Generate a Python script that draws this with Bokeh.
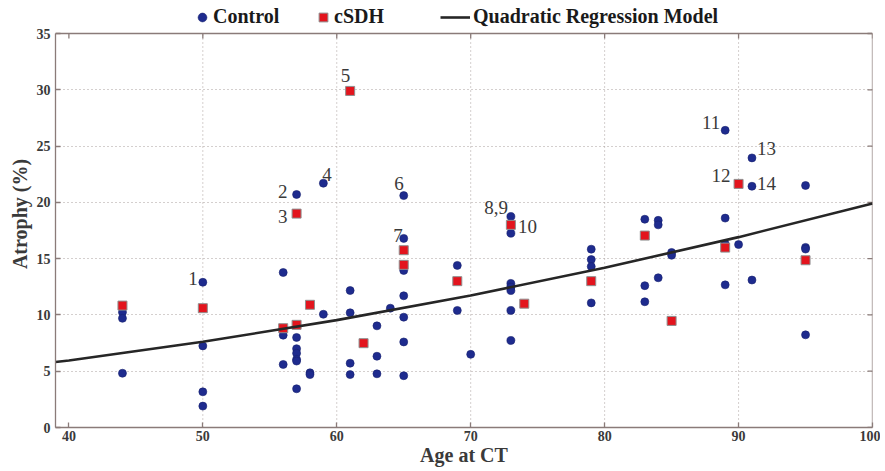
from bokeh.plotting import figure
from bokeh.models import Legend, LegendItem, FixedTicker, Range1d, ColumnDataSource
from bokeh.core.properties import value
from bokeh.embed import file_html
from bokeh.resources import INLINE

# ---------------- data ----------------
ctrl_age = [44, 44, 44,
            50, 50, 50, 50,
            56, 56, 56,
            57, 57, 57, 57, 57, 57, 57,
            58, 58,
            59, 59,
            61, 61, 61, 61,
            63, 63, 63,
            64,
            65, 65, 65, 65, 65, 65, 65,
            69, 69,
            70,
            73, 73, 73, 73, 73, 73, 73,
            79, 79, 79, 79,
            83, 83, 83,
            84, 84, 84,
            85, 85,
            89, 89, 89, 89,
            90,
            91, 91, 91,
            95, 95, 95, 95]
ctrl_atrophy = [10.24, 9.7, 4.82,
                12.9, 7.25, 3.17, 1.9,
                13.77, 8.2, 5.6,
                20.7, 8.0, 7.0, 6.6, 6.05, 5.9, 3.44,
                4.86, 4.7,
                21.7, 10.06,
                12.17, 10.19, 5.71, 4.7,
                9.03, 6.33, 4.77,
                10.6,
                20.6, 16.8, 13.95, 11.7, 9.8, 7.6, 4.6,
                14.4, 10.4,
                6.5,
                18.74, 17.26, 12.8, 12.46, 12.17, 10.4, 7.73,
                15.84, 14.92, 14.3, 11.07,
                18.5, 12.6, 11.17,
                18.4, 18.0, 13.3,
                15.55, 15.3,
                26.4, 18.6, 16.3, 12.67,
                16.25,
                23.95, 21.43, 13.1,
                21.5, 16.0, 15.85, 8.23]

csdh_age = [44, 50, 56, 57, 57, 58, 61, 62, 65, 65, 69, 73, 74, 79, 83, 85, 89, 90, 95]
csdh_atrophy = [10.83, 10.6, 8.82, 19.0, 9.12, 10.9, 29.9, 7.49, 15.75, 14.45,
                13.0, 18.0, 11.0, 13.0, 17.05, 9.47, 15.98, 21.64, 14.86]

model_age = [39, 40, 50, 60, 70, 80, 90, 100]
model_atrophy = [5.82, 5.95, 7.61, 9.54, 11.73, 14.19, 16.91, 19.90]

ann_text = ["1", "2", "3", "4", "5", "6", "7", "8,9", "10", "11", "12", "13", "14"]
ann_age = [50, 57, 57, 59, 61, 65, 65, 73, 73, 89, 90, 91, 91]
ann_atrophy = [12.9, 20.7, 19.0, 21.7, 29.9, 20.6, 16.8, 18.74, 18.0, 26.4, 21.64, 23.95, 21.43]

x_ticks = [40, 50, 60, 70, 80, 90, 100]
y_ticks = [0, 5, 10, 15, 20, 25, 30, 35]
x_lim = (39, 100)
y_lim = (0, 35)

series_names = ["Control", "cSDH", "Quadratic Regression Model"]
x_title = "Age at CT"
y_title = "Atrophy (%)"

# ---------------- styles / layout ----------------
ann_dx = [-5, -9, -9, -1, 0, 0, -1, -3, 7, -5, -8, 5, 5]
ann_dy = [-4, -3, 3, -9, -15, -12, -3, -9, 2, -8, -8, -9, -3]
ann_align = ["right", "right", "right", "left", "right", "right", "right",
             "right", "left", "right", "right", "left", "left"]

AX = "#8a7b79"
GRID = "#a99e9c"
TXT = "#3a3a3a"
SERIF = "Liberation Serif"

W, H = 880, 470
B_LEFT, B_RIGHT, B_BOTTOM = 55, 8, 43
BOX_TOP_PX = 33                       # data box starts 33px below the top edge
FRAME_W = W - B_LEFT - B_RIGHT
FRAME_H = H - B_BOTTOM                # frame reaches the top so the legend is inside it
BOX_H = FRAME_H - BOX_TOP_PX
y_view_top = y_lim[1] * FRAME_H / BOX_H
TICK_PX = 5
tick_dy = TICK_PX * y_view_top / FRAME_H
tick_dx = TICK_PX * (x_lim[1] - x_lim[0]) / FRAME_W

p = figure(width=W, height=H, x_range=Range1d(*x_lim), y_range=Range1d(0, y_view_top),
           output_backend="svg", toolbar_location=None,
           min_border_left=B_LEFT, min_border_right=B_RIGHT, min_border_top=0,
           min_border_bottom=B_BOTTOM)
p.background_fill_color = "white"
p.border_fill_color = "white"
p.outline_line_color = None

bottom_ax = p.below[0]
left_ax = p.left[0]
left_ax.bounds = y_lim

for ax, ticks in ((bottom_ax, x_ticks), (left_ax, y_ticks)):
    ax.ticker = FixedTicker(ticks=ticks)
    ax.axis_line_color = AX
    ax.axis_line_width = 1.3
    ax.major_tick_line_color = AX
    ax.major_tick_line_width = 1.3
    ax.major_tick_in = TICK_PX
    ax.major_tick_out = 0
    ax.minor_tick_line_color = None
    ax.major_label_text_font = SERIF
    ax.major_label_text_font_style = "bold"
    ax.major_label_text_font_size = "14px"
    ax.major_label_text_color = TXT
    ax.axis_label_text_font = SERIF
    ax.axis_label_text_font_style = "bold"
    ax.axis_label_text_font_size = "20px"
    ax.axis_label_text_color = TXT

bottom_ax.major_label_standoff = 3
bottom_ax.axis_label = x_title
bottom_ax.axis_label_standoff = 0
left_ax.major_label_standoff = 5
left_ax.axis_label = y_title
left_ax.axis_label_standoff = 3

# horizontal grid lines (dotted)
p.xgrid.visible = False
yg = p.ygrid[0]
yg.ticker = FixedTicker(ticks=y_ticks[1:-1])
yg.grid_line_color = GRID
yg.grid_line_dash = "1 3"
yg.grid_line_width = 1
# vertical grid lines, limited to the data box
inner_x = x_ticks[1:-1]
p.segment(x0=inner_x, y0=[y_lim[0]] * len(inner_x), x1=inner_x, y1=[y_lim[1]] * len(inner_x),
          line_color=GRID, line_dash="1 3", line_width=1)
# box: top and right edges
p.segment(x0=[x_lim[0], x_lim[1]], y0=[y_lim[1], y_lim[0]],
          x1=[x_lim[1], x_lim[1]], y1=[y_lim[1], y_lim[1]],
          line_color=AX, line_width=1.3)
# inward ticks on top and right edges
p.segment(x0=x_ticks, y0=[y_lim[1]] * len(x_ticks),
          x1=x_ticks, y1=[y_lim[1] - tick_dy] * len(x_ticks),
          line_color=AX, line_width=1.3)
p.segment(x0=[x_lim[1]] * len(y_ticks), y0=y_ticks,
          x1=[x_lim[1] - tick_dx] * len(y_ticks), y1=y_ticks,
          line_color=AX, line_width=1.3)

r_ctrl = p.scatter(ctrl_age, ctrl_atrophy, marker="circle", size=8,
                   fill_color="#1e2b8e", line_color="#17226f", line_width=0.6)
r_csdh = p.scatter(csdh_age, csdh_atrophy, marker="square", size=9,
                   fill_color="#e3141d", line_color="#8f8f8f", line_width=1)
r_line = p.line(model_age, model_atrophy, line_color="#262626", line_width=2.6)

ann_src = ColumnDataSource(dict(x=ann_age, y=ann_atrophy, t=ann_text, dx=ann_dx, dy=ann_dy, al=ann_align))
p.text(x="x", y="y", text="t", x_offset="dx", y_offset="dy", text_align="al", source=ann_src,
       text_baseline="alphabetic", text_font=value(SERIF), text_font_size="19px", text_color=TXT)

LEG_H = 22
def mk_legend(name, rend, left_px, gw, standoff):
    lg = Legend(items=[LegendItem(label=name, renderers=[rend])],
                location=(left_px - B_LEFT, FRAME_H - 28),
                orientation="horizontal", background_fill_alpha=0, border_line_color=None,
                padding=0, margin=0, spacing=0, glyph_width=gw, glyph_height=LEG_H,
                label_height=LEG_H, label_standoff=standoff,
                label_text_font=SERIF, label_text_font_style="bold",
                label_text_font_size="20px", label_text_color="#1a1a1a")
    p.add_layout(lg, "center")

mk_legend(series_names[0], r_ctrl, 191, 22, 0)
mk_legend(series_names[1], r_csdh, 312, 22, 0)
mk_legend(series_names[2], r_line, 440, 30, 3)

open("out.html", "w").write(file_html(p, INLINE))
